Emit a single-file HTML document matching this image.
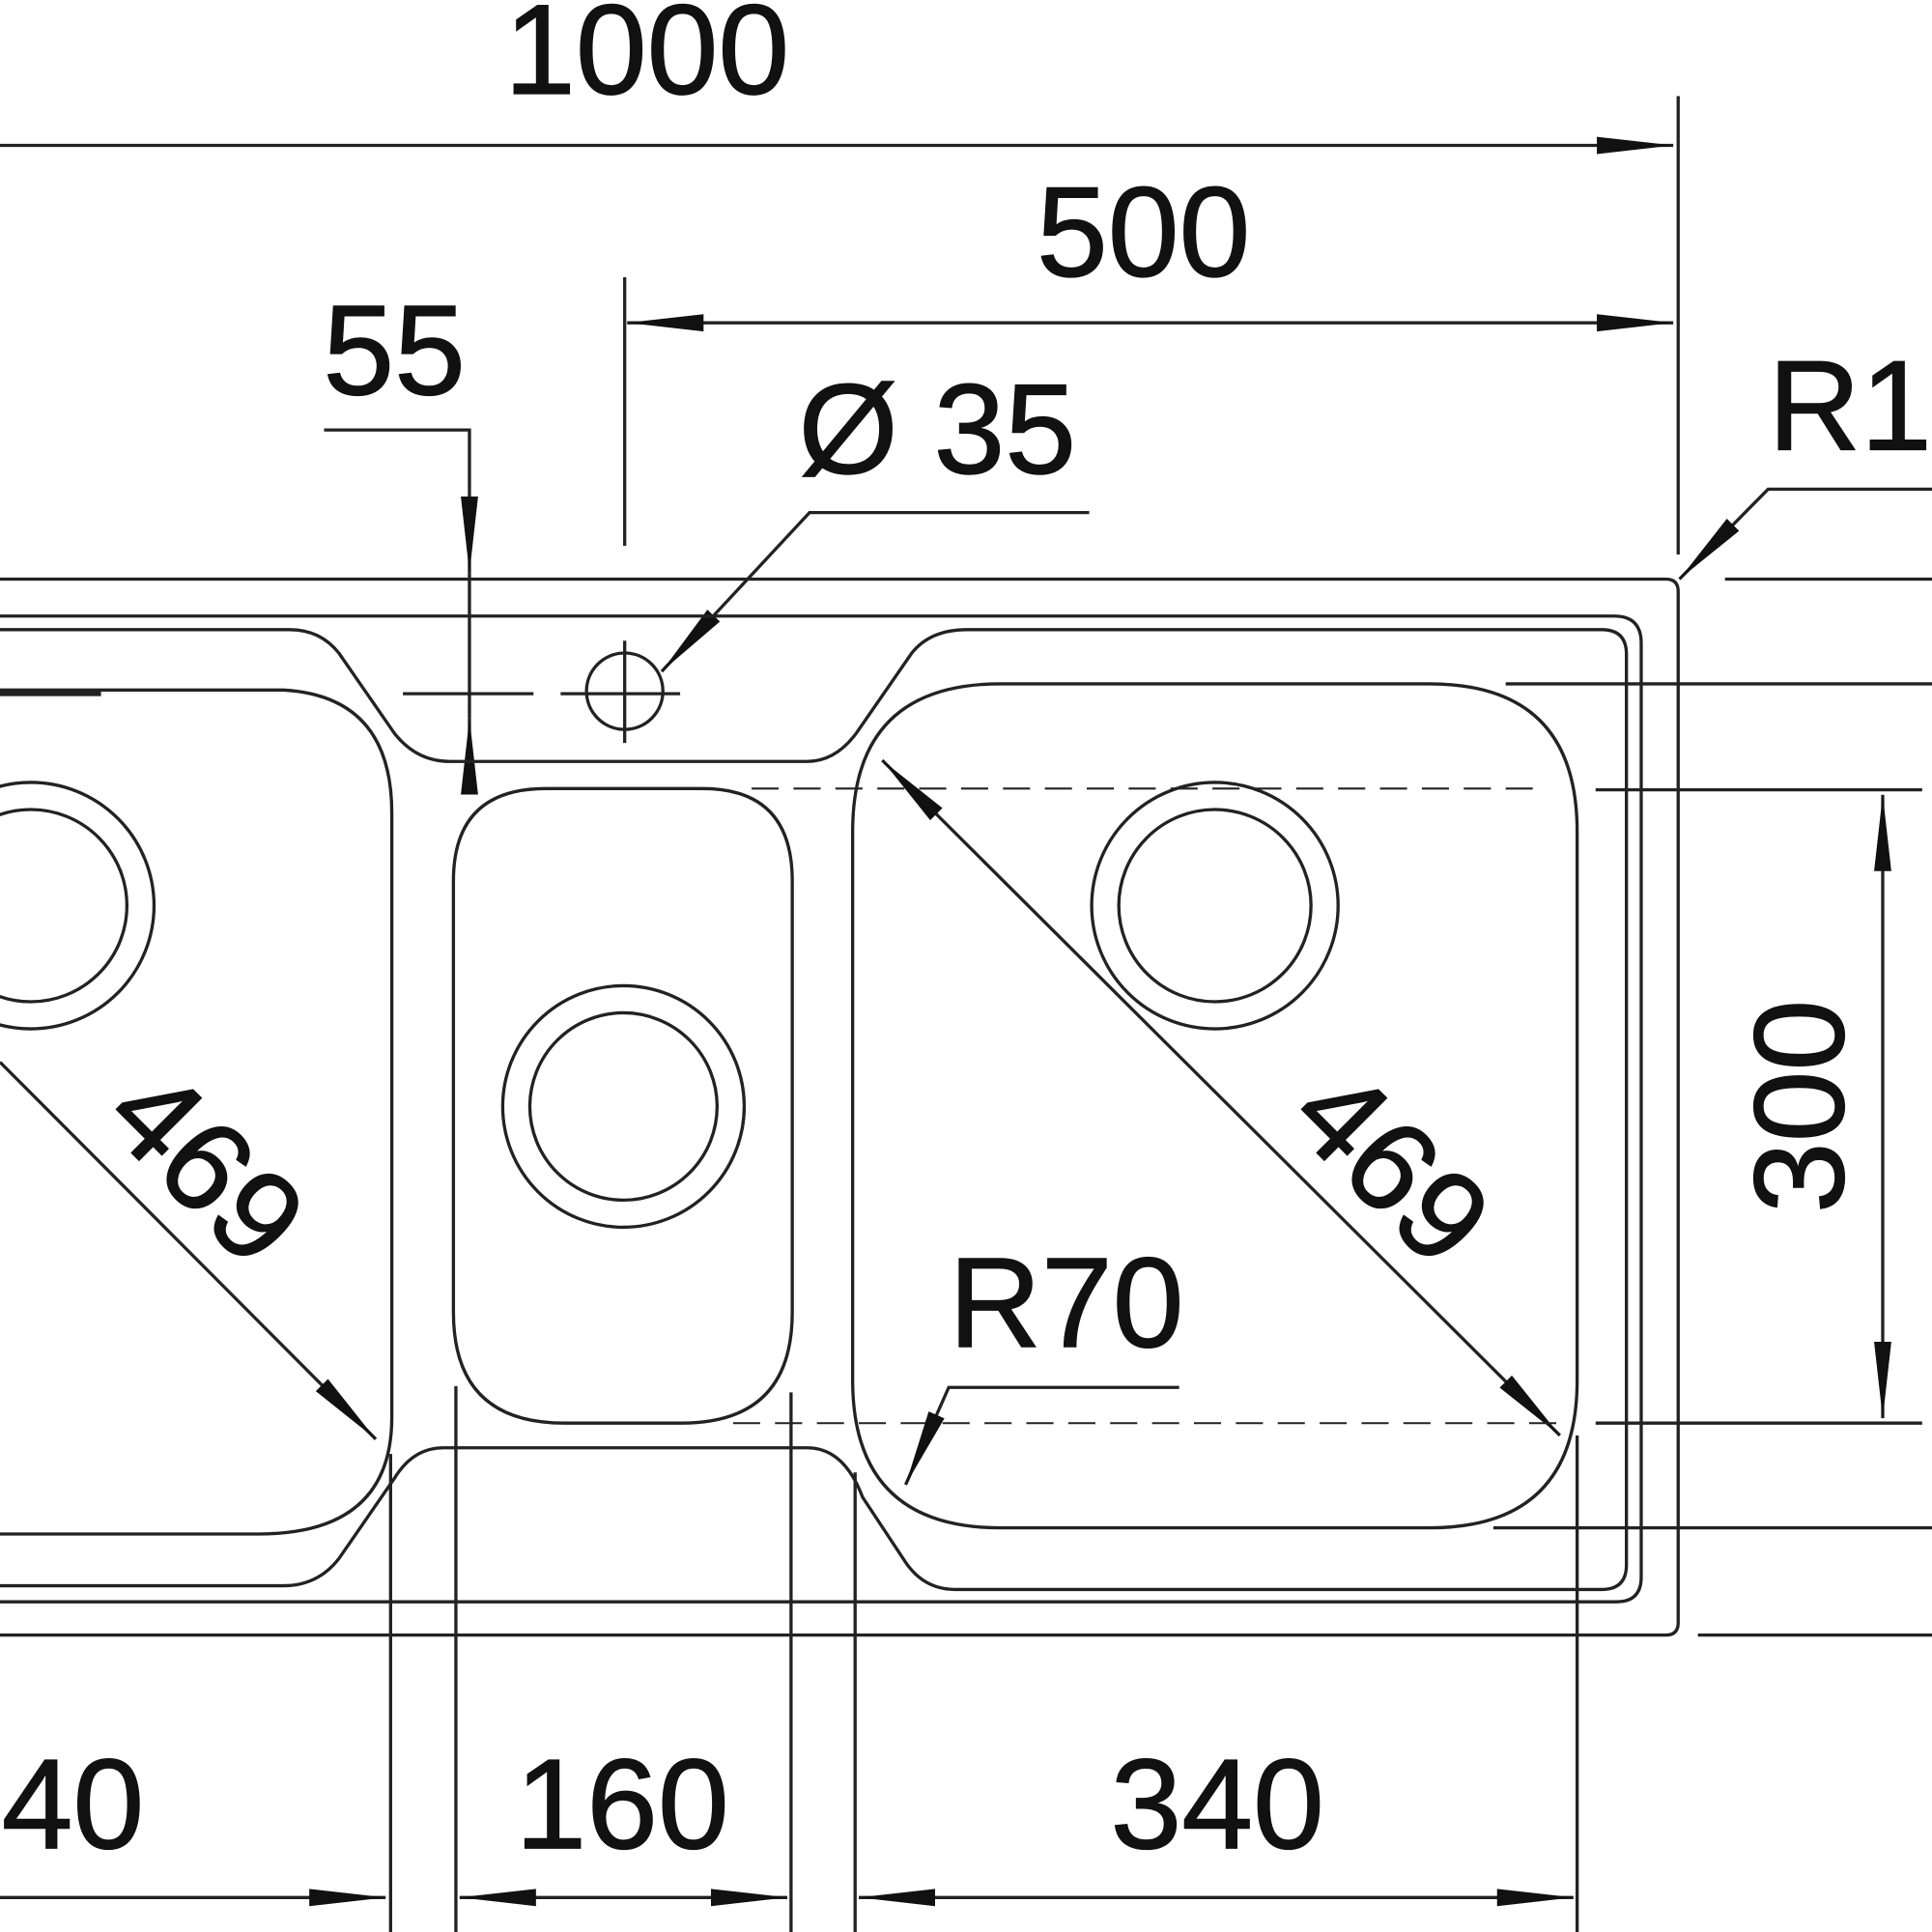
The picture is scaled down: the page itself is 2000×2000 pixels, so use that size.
<!DOCTYPE html>
<html><head><meta charset="utf-8"><style>
html,body{margin:0;padding:0;background:#fff;width:2000px;height:2000px;overflow:hidden}
svg{display:block}
text{font-family:"Liberation Sans",sans-serif;fill:#111;font-size:104px;stroke:#111;stroke-width:1}
</style></head><body>
<svg width="2000" height="2000" viewBox="0 0 1568 1568" xmlns="http://www.w3.org/2000/svg">
<defs>
<marker id="a" markerWidth="64" markerHeight="18" refX="62" refY="9" orient="auto-start-reverse" markerUnits="userSpaceOnUse">
<path d="M0,2 L62,9 L0,16 Z" fill="#111"/></marker>
</defs>
<g stroke="#222" stroke-width="2.6" fill="none">
<line x1="0" y1="118" x2="1358" y2="118" marker-end="url(#a)"/>
<line x1="1362" y1="78" x2="1362" y2="450"/>
<line x1="509" y1="262" x2="1358" y2="262" marker-start="url(#a)" marker-end="url(#a)"/>
<line x1="507" y1="225" x2="507" y2="443"/>
<polyline points="263,349 381,349 381,465" marker-end="url(#a)"/>
<line x1="381" y1="465" x2="381" y2="583"/>
<line x1="381" y1="630" x2="381" y2="583" marker-end="url(#a)"/>
<polyline points="884,416 657,416 537,545" marker-end="url(#a)"/>
<circle cx="507" cy="561" r="31"/>
<line x1="455" y1="563" x2="552" y2="563"/>
<line x1="507" y1="520" x2="507" y2="603"/>
<line x1="327" y1="563" x2="433" y2="563"/>
<polyline points="1568,397 1435,397 1363,470" marker-end="url(#a)"/>
<line x1="1400" y1="470" x2="1568" y2="470"/>
<line x1="1378" y1="1327" x2="1568" y2="1327"/>
<path d="M0,470 L1352,470 Q1362,470 1362,480 L1362,1317 Q1362,1327 1352,1327 L0,1327"/>
<path d="M0,500 L1310,500 Q1332,500 1332,522 L1332,1280 Q1332,1300 1312,1300 L0,1300"/>
<path d="M0,511 L235,511 Q260,511 275,530 L320,595 Q338,618 365,618 L655,618 Q678,618 695,595 L740,530 Q755,511 785,511 L1300,511 Q1320,511 1320,531 L1320,1270 Q1320,1290 1300,1290 L775,1290 Q750,1290 735,1268 L700,1215 Q685,1175 655,1175 L360,1175 Q335,1175 320,1200 L275,1265 Q258,1287 230,1287 L0,1287"/>
<line x1="0" y1="563" x2="82" y2="563" stroke-width="4"/>
<path d="M0,560 L230,560 Q318,565 318,660 L318,1150 Q318,1245 210,1245 L0,1245"/>
<circle cx="25" cy="735" r="100"/><circle cx="25" cy="735" r="78"/>
<line x1="0" y1="862" x2="305" y2="1168" marker-end="url(#a)"/>
<path d="M443,640 L570,640 Q643,640 643,715 L643,1065 Q643,1155 553,1155 L458,1155 Q368,1155 368,1065 L368,715 Q368,640 443,640 Z"/>
<circle cx="506" cy="898" r="98"/><circle cx="506" cy="898" r="76"/>
<path d="M812,555 L1160,555 Q1280,555 1280,675 L1280,1120 Q1280,1240 1160,1240 L812,1240 Q692,1240 692,1120 L692,675 Q692,555 812,555 Z"/>
<circle cx="986" cy="735" r="100"/><circle cx="986" cy="735" r="78"/>
<line x1="716" y1="617" x2="1266" y2="1165" marker-start="url(#a)" marker-end="url(#a)"/>
<line x1="610" y1="640" x2="1255" y2="640" stroke-dasharray="22,12" stroke-width="1.6"/>
<line x1="595" y1="1155" x2="1265" y2="1155" stroke-dasharray="22,12" stroke-width="1.6"/>
<line x1="1295" y1="641" x2="1560" y2="641"/>
<line x1="1295" y1="1155" x2="1560" y2="1155"/>
<line x1="1222" y1="555" x2="1568" y2="555"/>
<line x1="1212" y1="1240" x2="1568" y2="1240"/>
<line x1="1528" y1="645" x2="1528" y2="1151" marker-start="url(#a)" marker-end="url(#a)"/>
<polyline points="957,1126 770,1126 735,1205" marker-end="url(#a)"/>
<line x1="317" y1="1180" x2="317" y2="1568"/>
<line x1="370" y1="1125" x2="370" y2="1568"/>
<line x1="642" y1="1130" x2="642" y2="1568"/>
<line x1="694" y1="1195" x2="694" y2="1568"/>
<line x1="1280" y1="1165" x2="1280" y2="1568"/>
<line x1="0" y1="1540" x2="313" y2="1540" marker-end="url(#a)"/>
<line x1="373" y1="1540" x2="639" y2="1540" marker-start="url(#a)" marker-end="url(#a)"/>
<line x1="697" y1="1540" x2="1277" y2="1540" marker-start="url(#a)" marker-end="url(#a)"/>
</g>
<text x="525" y="76" text-anchor="middle">1000</text>
<text x="928" y="224" text-anchor="middle">500</text>
<text x="320" y="320" text-anchor="middle">55</text>
<text x="648" y="384">Ø 35</text>
<text x="1435" y="365">R1</text>
<text x="770" y="1093">R70</text>
<text x="117" y="1500" text-anchor="end">340</text>
<text x="505" y="1500" text-anchor="middle">160</text>
<text x="988" y="1500" text-anchor="middle">340</text>
<text transform="translate(168,946) rotate(45)" text-anchor="middle" dy="36">469</text>
<text transform="translate(1130,946) rotate(45)" text-anchor="middle" dy="36">469</text>
<text transform="translate(1460,898) rotate(-90)" text-anchor="middle" dy="36">300</text>
</svg>
</body></html>
